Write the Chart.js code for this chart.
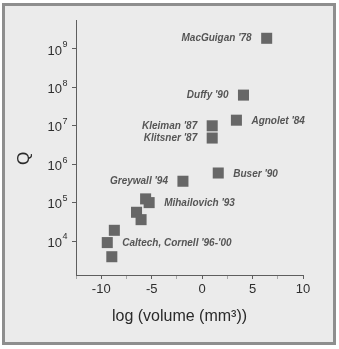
<!DOCTYPE html>
<html>
<head>
<meta charset="utf-8">
<script src="https://cdn.jsdelivr.net/npm/chart.js@4"></script>
<style>
  body { margin: 0; background: #fff; }
  #frame { position: absolute; left: 2px; top: 3px; width: 328px; height: 336px;
           border: 3px solid #8e8e8e; background: #ebebeb; }
  #q { position: absolute; left: 0; top: 0; }
</style>
</head>
<body>
<div id="frame"></div>
<canvas id="q" width="339" height="349"></canvas>
<script>
// experiments: log10 of resonator volume vs quality factor
const names = ["MacGuigan '78", "Duffy '90", "Agnolet '84", "Kleiman '87", "Klitsner '87",
    "Buser '90", "Greywall '94", "Mihailovich '93", "", "", "", "Caltech, Cornell '96-'00", "", ""];
const logVolume = [6.4, 4.1, 3.4, 1.0, 1.0, 1.6, -1.9, -5.25, -5.6, -6.5, -6.05, -9.4, -8.7, -8.95];
const qValues = [1.9e9, 6.3e7, 1.4e7, 1.0e7, 4.8e6, 5.9e5, 3.6e5, 1.0e5, 1.25e5, 5.6e4, 3.6e4, 9.1e3, 1.9e4, 3.9e3];
const xTicks = [-10, -5, 0, 5, 10];
const yTicks = [1e4, 1e5, 1e6, 1e7, 1e8, 1e9];

// which side of the square the name goes on
const labelSide = ['left', 'left', 'right', 'left', 'left', 'right', 'left', 'right', '', '', '', 'right', '', ''];

const pointNames = {
    id: 'pointNames',
    afterDatasetsDraw(chart) {
        const ctx = chart.ctx;
        const xs = chart.scales.x, ys = chart.scales.y;
        ctx.save();
        ctx.font = 'italic bold 10px "Liberation Sans", Arial, sans-serif';
        ctx.fillStyle = '#555';
        ctx.textBaseline = 'middle';
        names.forEach((n, i) => {
            if (!n) return;
            const px = xs.getPixelForValue(logVolume[i]);
            const py = ys.getPixelForValue(qValues[i]);
            if (labelSide[i] == 'left') {
                ctx.textAlign = 'right';
                ctx.fillText(n, px - 15, py);
            } else {
                ctx.textAlign = 'left';
                ctx.fillText(n, px + 15, py + 1);
            }
        });
        ctx.restore();
    }
};

// y tick labels as 10 with a raised exponent, placed on the scale's own ticks
const powerLabels = {
    id: 'powerLabels',
    afterDraw(chart) {
        const ctx = chart.ctx;
        const ys = chart.scales.y;
        ctx.save();
        ctx.fillStyle = '#2e2e2e';
        ctx.textBaseline = 'middle';
        ys.ticks.forEach((t) => {
            const py = ys.getPixelForValue(t.value);
            const e = String(Math.round(Math.log10(t.value)));
            ctx.font = '9px "Liberation Sans", Arial, sans-serif';
            ctx.textAlign = 'left';
            ctx.fillText(e, 62.5, py - 4);
            ctx.font = '13px "Liberation Sans", Arial, sans-serif';
            ctx.textAlign = 'right';
            ctx.fillText('10', 62, py + 2);
        });
        ctx.restore();
    }
};

const axisTitles = {
    id: 'axisTitles',
    afterDraw(chart) {
        const ctx = chart.ctx;
        const a = chart.chartArea;
        ctx.save();
        ctx.fillStyle = '#2a2a2a';
        ctx.textAlign = 'center';
        ctx.textBaseline = 'middle';
        ctx.font = '16px "Liberation Sans", Arial, sans-serif';
        ctx.fillText('log (volume (mm³))', (a.left + a.right) / 2 - 10, a.bottom + 42);
        ctx.translate(24, (a.top + a.bottom) / 2 + 11);
        ctx.rotate(-Math.PI / 2);
        ctx.font = '17px "Liberation Sans", Arial, sans-serif';
        ctx.fillText('Q', 0, 0);
        ctx.restore();
    }
};

new Chart(document.getElementById('q'), {
    type: 'scatter',
    data: {
        datasets: [{
            data: logVolume.map((v, i) => ({ x: v, y: qValues[i] })),
            pointStyle: 'rect',
            pointRadius: 7.8,
            backgroundColor: '#676767',
            borderColor: '#676767',
            borderWidth: 0,
        }],
    },
    options: {
        responsive: false,
        animation: false,
        layout: { padding: { top: 20, right: 36, left: 0, bottom: 0 } },
        plugins: { legend: { display: false }, tooltip: { enabled: false } },
        scales: {
            x: {
                type: 'linear',
                min: -12.5,
                max: 10,
                afterFit: (s) => { s.height = 74; },
                afterBuildTicks: (s) => {
                    s.ticks = [];
                    for (let v = -12.5; v <= 10; v += 2.5) s.ticks.push({ value: v });
                },
                border: { color: '#5e5e5e', width: 1 },
                grid: {
                    drawOnChartArea: false,
                    tickLength: 4,
                    tickColor: (c) => xTicks.includes(c.tick.value) ? '#5e5e5e' : '#a8a8a8',
                },
                ticks: {
                    padding: 3,
                    color: '#2e2e2e',
                    font: { size: 13, family: '"Liberation Sans", Arial, sans-serif' },
                    maxRotation: 0,
                    autoSkip: false,
                    callback: (v) => xTicks.includes(v) ? String(v) : '',
                },
            },
            y: {
                type: 'logarithmic',
                min: Math.pow(10, 3.115),
                max: Math.pow(10, 9.755),
                afterFit: (s) => { s.width = 76; },
                afterBuildTicks: (s) => { s.ticks = yTicks.map(v => ({ value: v })); },
                border: { color: '#5e5e5e', width: 1 },
                grid: { drawOnChartArea: false, tickLength: 4, tickColor: '#5e5e5e' },
                ticks: { callback: () => '' },
            },
        },
    },
    plugins: [pointNames, powerLabels, axisTitles],
});
</script>
</body>
</html>
